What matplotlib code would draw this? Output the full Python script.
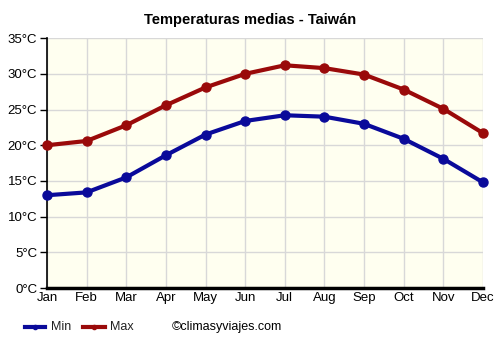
import matplotlib
matplotlib.use("Agg")
import matplotlib.pyplot as plt
from matplotlib.lines import Line2D

plt.rcParams['font.family'] = ['Liberation Sans', 'DejaVu Sans']

months = ["Jan", "Feb", "Mar", "Apr", "May", "Jun", "Jul", "Aug", "Sep", "Oct", "Nov", "Dec"]
t_min = [13.0, 13.4, 15.5, 18.6, 21.5, 23.4, 24.2, 24.0, 23.0, 20.9, 18.1, 14.8]
t_max = [20.0, 20.6, 22.8, 25.6, 28.1, 30.0, 31.2, 30.8, 29.9, 27.8, 25.1, 21.7]
y_ticks = [0, 5, 10, 15, 20, 25, 30, 35]
title = "Temperaturas medias - Taiwán"
series_names = ["Min", "Max"]
c_min = "#0a0a9a"
c_max = "#9a0a0a"

fig = plt.figure(figsize=(5, 3.5), dpi=100)
ax = fig.add_axes([0.094, 0.177, 0.872, 0.714])
ax.set_facecolor("#fffff0")
x = list(range(len(months)))
ax.plot(x, t_min, color=c_min, lw=3, marker="o", ms=6.5, zorder=3, clip_on=False)
ax.plot(x, t_max, color=c_max, lw=3, marker="o", ms=6.5, zorder=3, clip_on=False)
ax.set_xlim(0, 11)
ax.set_ylim(0, 35)
ax.set_xticks(x)
ax.set_xticklabels(months, fontsize=9.5)
ax.set_yticks(y_ticks)
ax.set_yticklabels([f"{v}°C" for v in y_ticks], fontsize=9.5)
ax.grid(True, color="#d8d8d8", lw=1)
ax.set_axisbelow(True)
for s in ["top", "right"]:
    ax.spines[s].set_visible(False)
ax.spines["left"].set_linewidth(1.2)
ax.spines["bottom"].set_linewidth(2.5)
ax.tick_params(axis="x", length=0, pad=3)
ax.tick_params(axis="y", length=5, width=1, pad=2)
fig.text(0.5, 0.943, title, ha="center", va="center", fontsize=10.5, fontweight="bold")

ly = 1 - 327 / 350
for (x0, x1, tx), col, name in zip([(25, 45, 51), (83, 105, 110)], [c_min, c_max], series_names):
    fig.add_artist(Line2D([x0 / 500, x1 / 500], [ly, ly], color=col, lw=3))
    fig.add_artist(Line2D([(x0 + x1) / 1000], [ly], color=col, marker="o", ms=3))
    fig.text(tx / 500, ly, name, ha="left", va="center", fontsize=9, color="#222222")
fig.text(172 / 500, ly, "©climasyviajes.com", ha="left", va="center", fontsize=9)
fig.savefig("out.png", dpi=100)
